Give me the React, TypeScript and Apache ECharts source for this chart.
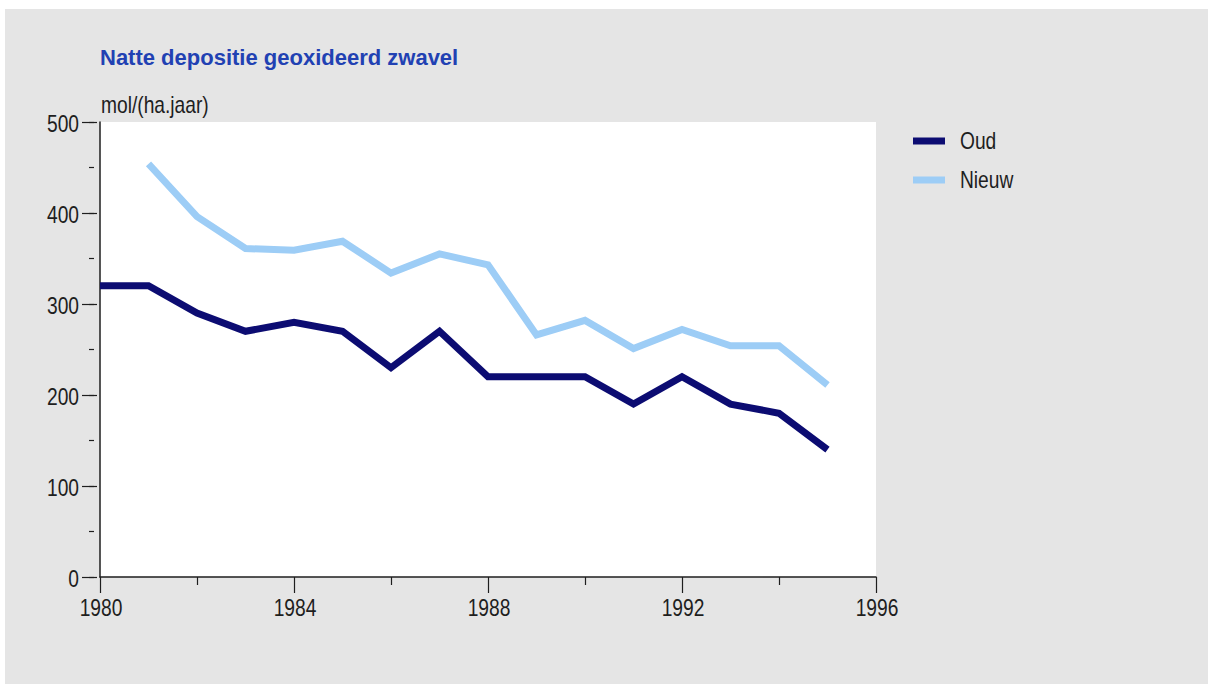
import React, { useEffect, useRef } from "react";
import * as echarts from "echarts";

// Wet deposition of oxidised sulphur, mol/(ha.jaar)
const years: number[] = [1980, 1981, 1982, 1983, 1984, 1985, 1986, 1987, 1988, 1989, 1990, 1991, 1992, 1993, 1994, 1995];
const oud: (number | null)[] = [320, 320, 290, 270, 280, 270, 230, 270, 220, 220, 220, 190, 220, 190, 180, 140];
const nieuw: (number | null)[] = [null, 454, 396, 361, 359, 369, 334, 355, 343, 266, 282, 251, 272, 254, 254, 211];

const seriesNames = ["Oud", "Nieuw"];
const seriesColors = ["#0c0c72", "#9dcdf6"];
const xTickLabels: number[] = [1980, 1984, 1988, 1992, 1996];
const yTickLabels: number[] = [0, 100, 200, 300, 400, 500];
const titleText = "Natte depositie geoxideerd zwavel";
const unitText = "mol/(ha.jaar)";

const SANS = "'Liberation Sans', Arial, Helvetica, sans-serif";
const INK = "#1e1e1e";
// labels are set in a condensed face: regular sans squeezed horizontally
const LABEL_FONT = `24px ${SANS}`;
const SQUEEZE = 0.8;

const pairs = (vals: (number | null)[]) => years.map((y, i) => [y, vals[i]]);

export default function App() {
  const ref = useRef<HTMLDivElement>(null);

  useEffect(() => {
    if (!ref.current) return;
    const chart = echarts.init(ref.current, undefined, { renderer: "svg" });

    const grid = { left: 100, top: 122, right: 337, bottom: 107 };

    // hidden helper axes draw the detached tick marks left of the axis line
    const tickOnlyY = (offset: number, interval: number, length: number) => ({
      type: "value" as const,
      min: 0,
      max: 500,
      interval,
      offset,
      position: "left" as const,
      axisLine: { show: false },
      axisTick: { show: true, length, lineStyle: { color: INK, width: 1.2 } },
      axisLabel: { show: false },
      splitLine: { show: false },
    });

    chart.setOption({
      animation: false,
      backgroundColor: "transparent",
      title: {
        text: titleText,
        left: 100,
        top: 46,
        padding: 0,
        textStyle: { color: "#2141b3", fontFamily: SANS, fontWeight: "bold", fontSize: 22 },
      },
      grid: { ...grid, show: true, backgroundColor: "#ffffff", borderWidth: 0 },
      xAxis: {
        type: "value",
        min: 1980,
        max: 1996,
        interval: 4,
        axisLine: { show: true, onZero: false, lineStyle: { color: INK, width: 1.5 } },
        axisTick: { show: true, length: 16, lineStyle: { color: INK, width: 1.2 } },
        minorTick: { show: true, splitNumber: 2, length: 8, lineStyle: { color: INK, width: 1.2 } },
        axisLabel: { show: false },
        splitLine: { show: false },
        minorSplitLine: { show: false },
      },
      yAxis: [
        {
          type: "value",
          min: 0,
          max: 500,
          interval: 100,
          position: "left",
          axisLine: { show: true, lineStyle: { color: INK, width: 1.5 } },
          axisTick: { show: false },
          axisLabel: { show: false },
          splitLine: { show: false },
        },
        tickOnlyY(3, 100, 15),
        tickOnlyY(6, 50, 5),
      ],
      series: [
        {
          name: seriesNames[0],
          type: "line",
          data: pairs(oud),
          showSymbol: false,
          symbol: "none",
          lineStyle: { color: seriesColors[0], width: 7, join: "miter" },
          itemStyle: { color: seriesColors[0] },
          z: 3,
        },
        {
          name: seriesNames[1],
          type: "line",
          data: pairs(nieuw),
          showSymbol: false,
          symbol: "none",
          lineStyle: { color: seriesColors[1], width: 7, join: "miter" },
          itemStyle: { color: seriesColors[1] },
          z: 2,
        },
      ],
    });

    // tick labels placed through the axes' own scales
    const toPx = (x: number, y: number) => chart.convertToPixel({ gridIndex: 0 }, [x, y]) as number[];
    const origin = toPx(1980, 0);
    const labelText = (text: string, x: number, y: number, align: string) => ({
      type: "text",
      x,
      y,
      scaleX: SQUEEZE,
      silent: true,
      style: { text, fill: INK, font: LABEL_FONT, align, verticalAlign: "middle" },
    });

    const graphics: any[] = [];
    yTickLabels.forEach((v) => {
      const p = toPx(1980, v);
      graphics.push(labelText(String(v), origin[0] - 21, p[1] + 1.5, "right"));
    });
    xTickLabels.forEach((v) => {
      const p = toPx(v, 0);
      graphics.push(labelText(String(v), p[0] + 1, origin[1] + 31, "center"));
    });
    // unit above the value axis
    graphics.push({
      type: "text",
      x: origin[0] + 1,
      y: 105,
      scaleX: SQUEEZE,
      silent: true,
      style: { text: unitText, fill: INK, font: LABEL_FONT, align: "left", verticalAlign: "middle" },
    });
    // legend
    seriesNames.forEach((name, i) => {
      const cy = 141 + i * 39;
      graphics.push({
        type: "rect",
        silent: true,
        shape: { x: 913, y: cy - 3.5, width: 32, height: 7 },
        style: { fill: seriesColors[i] },
      });
      graphics.push(labelText(name, 960, cy, "left"));
    });

    chart.setOption({ graphic: graphics });

    return () => chart.dispose();
  }, []);

  return (
    <div style={{ position: "absolute", left: 0, top: 0, width: 1213, height: 684, background: "#ffffff" }}>
      <div style={{ position: "absolute", left: 5, top: 9, width: 1203, height: 675, background: "#e5e5e5" }} />
      <div ref={ref} style={{ position: "absolute", left: 0, top: 0, width: 1213, height: 684 }} />
    </div>
  );
}
